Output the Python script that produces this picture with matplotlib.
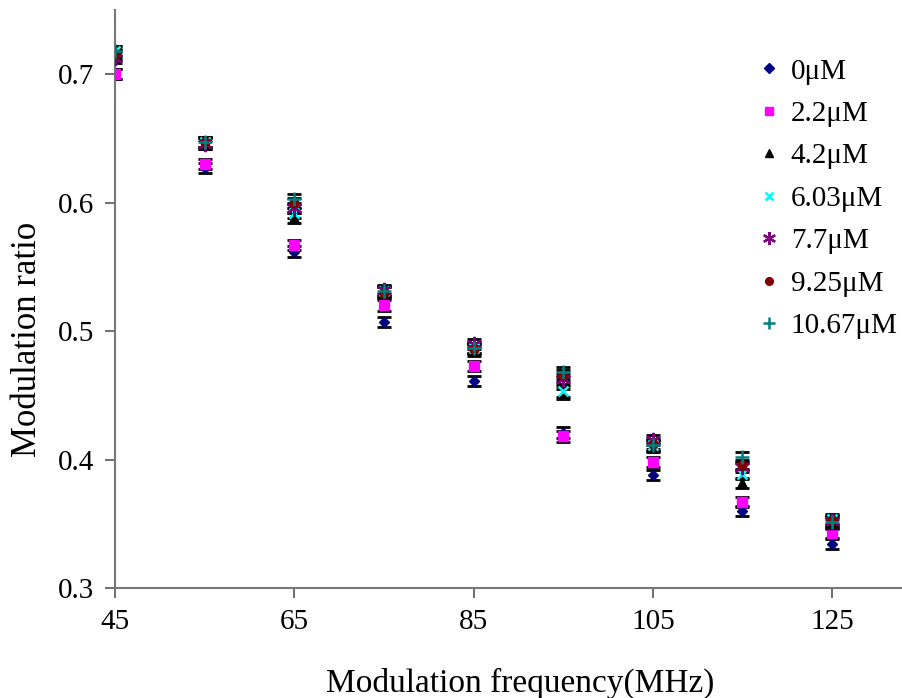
import matplotlib
matplotlib.use('Agg')
import matplotlib.pyplot as plt

plt.rcParams.update({
    'font.family': ['Liberation Serif', 'DejaVu Serif'],
    'mathtext.fontset': 'stix',
})

freq = [45, 55, 65, 75, 85, 95, 105, 115, 125]
labels = ['0μM', '2.2μM', '4.2μM', '6.03μM', '7.7μM', '9.25μM', '10.67μM']
ratio_0 = [0.700, 0.627, 0.562, 0.507, 0.461, 0.421, 0.388, 0.360, 0.334]
ratio_22 = [0.700, 0.630, 0.567, 0.520, 0.473, 0.418, 0.398, 0.367, 0.343]
ratio_42 = [0.715, 0.646, 0.588, 0.530, 0.485, 0.451, 0.410, 0.382, 0.350]
ratio_603 = [0.718, 0.647, 0.592, 0.531, 0.487, 0.453, 0.411, 0.389, 0.354]
ratio_77 = [0.713, 0.646, 0.596, 0.532, 0.490, 0.463, 0.415, 0.394, 0.352]
ratio_925 = [0.716, 0.647, 0.600, 0.530, 0.486, 0.466, 0.412, 0.396, 0.353]
ratio_1067 = [0.718, 0.647, 0.603, 0.531, 0.487, 0.468, 0.411, 0.402, 0.351]
err = [0.004] * len(freq)

series = [ratio_0, ratio_22, ratio_42, ratio_603, ratio_77, ratio_925, ratio_1067]
styles = [
    dict(marker='D', color='#000080', ms=5.5),
    dict(marker='s', color='#FF00FF', ms=6.5),
    dict(marker='^', color='black', ms=6.5),
    dict(marker='x', color='#00FFFF', ms=7.5, mew=1.8),
    dict(marker=(6, 2, 0), color='#800080', ms=11, mew=1.6),
    dict(marker='o', color='#800000', ms=6.5),
    dict(marker='+', color='#008080', ms=10, mew=1.8),
]

fig = plt.figure(figsize=(9.02, 6.98), dpi=100)
ax = fig.add_axes([0.1275, 0.1576, 0.8725, 0.828])

for vals, lab, st in zip(series, labels, styles):
    ax.errorbar(freq, vals, yerr=err, fmt='none', ecolor='black',
                elinewidth=1.0, capsize=5, capthick=2.0, zorder=2)
    ax.plot(freq, vals, linestyle='none', label=lab, zorder=3,
            marker=st['marker'], color=st['color'], markersize=st['ms'],
            markeredgewidth=st.get('mew', 1.0))

ax.set_xlim(45, 132.8)
ax.set_ylim(0.3, 0.75)
ax.set_xticks([45, 65, 85, 105, 125])
ax.set_yticks([0.3, 0.4, 0.5, 0.6, 0.7])
ax.set_yticklabels(['0.3', '0.4', '0.5', '0.6', '0.7'])
ax.tick_params(direction='out', length=7, width=1.2, color='#555555',
               labelsize=21, pad=8)

for s in ['top', 'right']:
    ax.spines[s].set_visible(False)
for s in ['left', 'bottom']:
    ax.spines[s].set_color('#777777')
    ax.spines[s].set_linewidth(1.5)

ax.set_xlabel('Modulation frequency(MHz)', fontsize=24)
ax.xaxis.set_label_coords(0.515, -0.138)
ax.set_ylabel('Modulation ratio', fontsize=25)
ax.yaxis.set_label_coords(-0.09, 0.431)

leg = ax.legend(loc='upper left', bbox_to_anchor=(0.792, 0.937), frameon=False,
                fontsize=21, handletextpad=0.1, labelspacing=0.55,
                handlelength=1.3, borderaxespad=0.0, markerscale=0.85)

fig.savefig('out.png', dpi=100)
